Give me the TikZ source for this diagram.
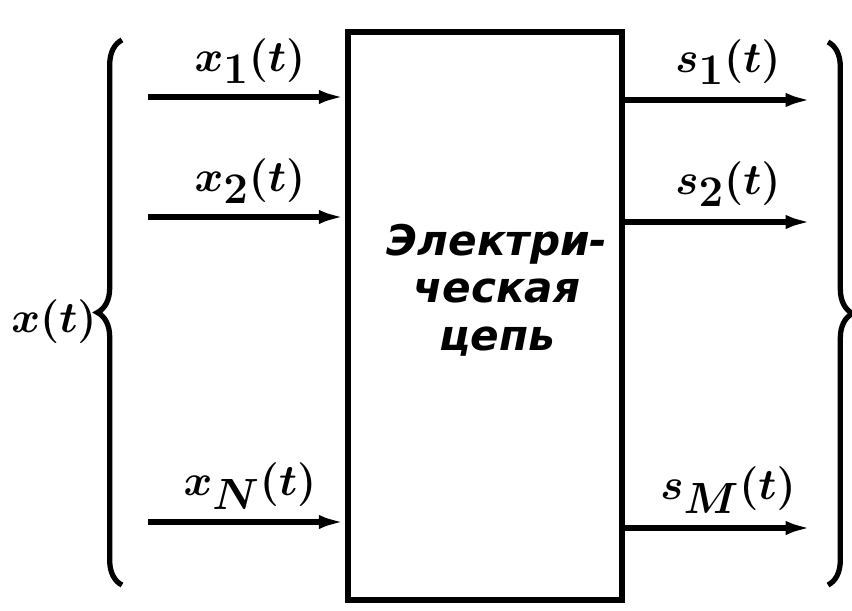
\documentclass[tikz,border=0pt]{standalone}
\usepackage{fontspec}
\setmainfont{DejaVu Sans}
\usetikzlibrary{arrows.meta,decorations.pathreplacing}
\tikzset{
    signal/.style={line width=3pt,-{Latex[length=15pt,width=8pt]}},
    bracket/.style={line width=3pt,decorate,decoration={brace,amplitude=14pt}},
    siglabel/.style={font=\boldmath\fontsize{34}{38}\selectfont}
}
\begin{document}
\begin{tikzpicture}[x=0.02cm,y=-0.02cm]
    \useasboundingbox (0,0) rectangle (852,611);
    \node[draw,line width=3.2pt,minimum width=5.48cm,minimum height=11.36cm,inner sep=0pt] (circuit) at (485,316) {};
    \node[align=center,font=\bfseries\itshape\fontsize{24}{27}\selectfont] (name) at (497,290) {Электри-\\ческая\\цепь};
    % inputs
    \foreach\y/\lab/\n in{97/1/1,217/2/2,522/N/3}{
        \coordinate (in\n) at (148,\y);
        \draw[signal] (in\n) -- (circuit.west |- in\n);
        \node[siglabel] (xl\n) at (250,\y-36) {$x_{\lab}(t)$};
    }
    % outputs
    \foreach\y/\lab/\n in{100/1/1,222/2/2,528/M/3}{
        \coordinate (out\n) at (812,\y);
        \draw[signal] (circuit.east |- out\n) -- (out\n);
        \node[siglabel] (sl\n) at (728,\y-38) {$s_{\lab}(t)$};
    }
    \draw[bracket] (122,585) -- (122,40);
    \draw[bracket] (828,42) -- (828,585);
    \node[siglabel] (xall) at (54,322) {$x(t)$};
\end{tikzpicture}
\end{document}
